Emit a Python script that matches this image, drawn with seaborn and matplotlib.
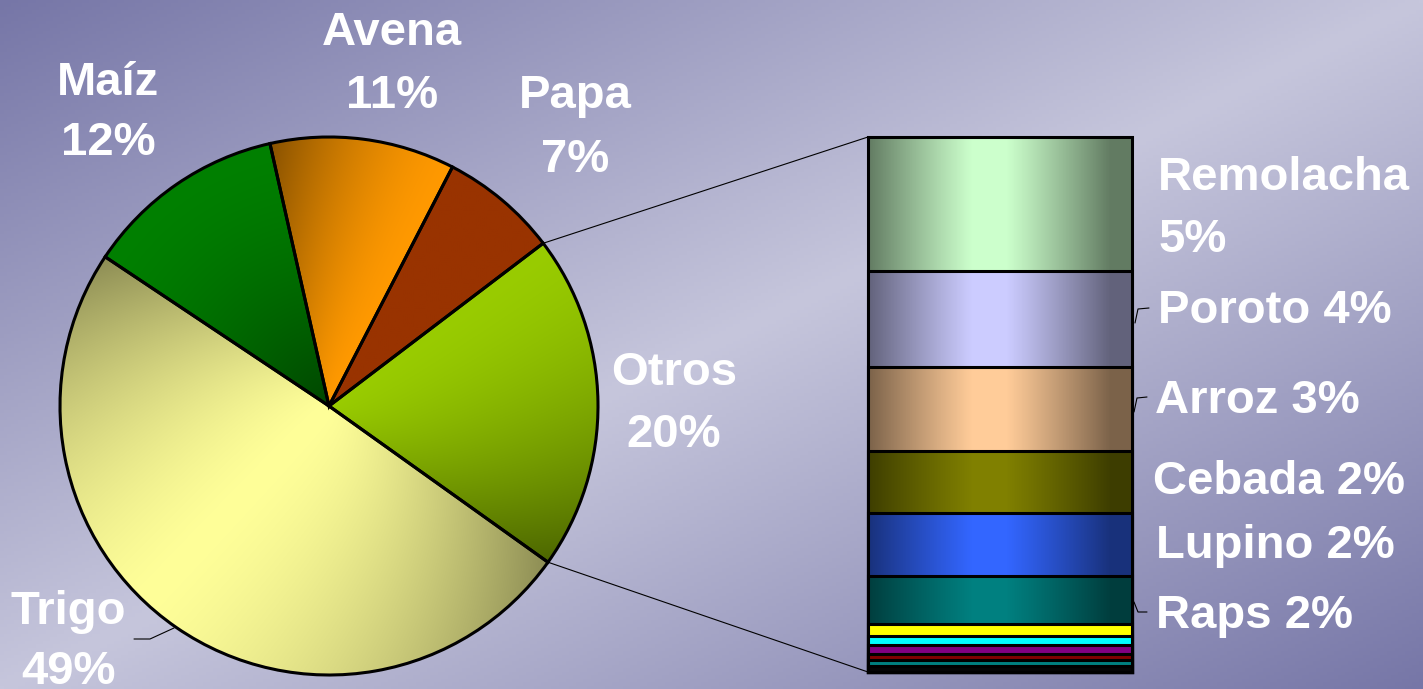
import numpy as np
import matplotlib
matplotlib.use("Agg")
import matplotlib.pyplot as plt
import matplotlib.patches as mpatches
from matplotlib.patches import ConnectionPatch
from matplotlib.lines import Line2D
import seaborn as sns

# ---------------- data ----------------
pie_labels = ["Otros", "Papa", "Avena", "Maíz", "Trigo"]
pie_values = [20, 7, 11, 12, 49]
pie_colors = ["#99cc00", "#993300", "#ff9900", "#008000", "#ffff99"]

# breakdown of "Otros", listed from top of the bar to the bottom
bar_labels = ["Remolacha", "Poroto", "Arroz", "Cebada", "Lupino", "Raps",
              "menor 1", "menor 2", "menor 3", "menor 4", "menor 5", "menor 6"]
bar_values = [5.03, 3.58, 3.12, 2.34, 2.35, 1.80, 0.45, 0.34, 0.33, 0.22, 0.21, 0.24]
bar_colors = ["#ccffcc", "#ccccff", "#ffcc99", "#808000", "#3366ff", "#008080",
              "#ffff00", "#00ffff", "#800080", "#800000", "#008080", "#050505"]
n_labeled = 6

# ---------------- figure ----------------
W, H = 1423, 689
sns.set_theme(style="white")
plt.rcParams["font.family"] = ["Liberation Sans", "DejaVu Sans"]
fig = plt.figure(figsize=(W / 100, H / 100), dpi=100)

# background gradient
ax_bg = fig.add_axes([0, 0, 1, 1], zorder=-10)
gx, gy = np.meshgrid(np.linspace(0, 1, 400), np.linspace(0, 1, 200))
t = (gx + gy) / 2.0
f = np.abs(2 * t - 1)
dark = np.array([0x76, 0x76, 0xa7]) / 255.0
light = np.array([0xc6, 0xc6, 0xdc]) / 255.0
bg = light[None, None, :] * (1 - f[..., None]) + dark[None, None, :] * f[..., None]
ax_bg.imshow(bg, aspect="auto", extent=[0, 1, 0, 1], origin="upper")
ax_bg.axis("off")

# ---------------- pie ----------------
cx, cy, R = 329, 406, 269
ax_pie = fig.add_axes([(cx - R) / W, (H - cy - R) / H, 2 * R / W, 2 * R / H])
wedges, _ = ax_pie.pie(pie_values, colors=pie_colors, startangle=-35.5,
                       counterclock=True, radius=1,
                       wedgeprops=dict(edgecolor="none"))
ax_pie.set_xlim(-1, 1)
ax_pie.set_ylim(-1, 1)
ax_pie.axis("off")

N = 500
X, Y = np.meshgrid(np.linspace(-1, 1, N), np.linspace(-1, 1, N))
rr = np.clip(np.hypot(X, Y), 0, 1)
th = np.degrees(np.arctan2(Y, X)) % 360


def shade(name, r, phi):
    if name == "Otros":
        return 1 - 0.5 * r * (1 - phi) ** 1.5
    if name == "Avena":
        return 1 - 0.47 * r * phi ** 1.6
    if name == "Maíz":
        return 1 - 0.45 * (1 - r) ** 1.5
    if name == "Trigo":
        pc = 0.45
        d = np.where(phi < pc, (pc - phi) / pc, (phi - pc) / (1 - pc))
        return 1 - 0.45 * r ** 1.2 * d ** 1.4
    return np.ones_like(r)


for w, name in zip(wedges, pie_labels):
    t1, t2 = w.theta1, w.theta2
    phi = np.clip(((th - t1) % 360) / (t2 - t1), 0, 1)
    m = np.clip(shade(name, rr, phi), 0, 1)
    base = np.array(w.get_facecolor()[:3])
    img = base[None, None, :] * m[..., None]
    im = ax_pie.imshow(img, extent=[-1, 1, -1, 1], origin="lower",
                       zorder=1.5, interpolation="bilinear")
    im.set_clip_path(w)
    ax_pie.add_patch(mpatches.Wedge(w.center, w.r, w.theta1, w.theta2,
                                    facecolor="none", edgecolor="black",
                                    linewidth=2.2, zorder=3, clip_on=False))
ax_pie.set_xlim(-1, 1)
ax_pie.set_ylim(-1, 1)

# ---------------- stacked bar ----------------
bx0, bx1, by0, by1 = 868, 1132, 137, 672
ax_bar = fig.add_axes([bx0 / W, (H - by1) / H, (bx1 - bx0) / W, (by1 - by0) / H])
total = float(np.sum(bar_values))
for i in range(len(bar_values)):
    top = float(np.sum(bar_values[i:]))
    sns.barplot(x=[0], y=[top], color=bar_colors[i], saturation=1,
                edgecolor="black", linewidth=2.2, width=0.8,
                errorbar=None, ax=ax_bar)
for p in ax_bar.patches:
    p.set_clip_on(False)
ax_bar.set_xlim(-0.4, 0.4)
ax_bar.set_ylim(0, total)
ax_bar.axis("off")

# cylinder-like shading on the large segments
u = np.linspace(-1, 1, 300)
dshade = 0.52 * np.clip((np.abs(u + 0.08) - 0.12) / 0.8, 0, 1) ** 1.1
ov = np.zeros((2, len(u), 4))
ov[..., 3] = dshade[None, :]
shade_bottom = float(np.sum(bar_values[n_labeled:]))
ax_bar.imshow(ov, extent=[-0.4, 0.4, shade_bottom, total], aspect="auto",
              zorder=5, interpolation="bilinear")
ax_bar.set_xlim(-0.4, 0.4)
ax_bar.set_ylim(0, total)

# connector lines pie -> bar
w_otros = wedges[0]
for ang, yb in [(w_otros.theta2, total), (w_otros.theta1, 0.0)]:
    a = np.radians(ang)
    con = ConnectionPatch(xyA=(np.cos(a), np.sin(a)), coordsA=ax_pie.transData,
                          xyB=(-0.4, yb), coordsB=ax_bar.transData,
                          color="black", linewidth=0.8, zorder=6)
    fig.add_artist(con)

# ---------------- labels ----------------
txt = dict(color="white", fontsize=34, fontweight="bold",
           family=["Liberation Sans", "DejaVu Sans"])


def ftext(x, y, s, ha):
    fig.text(x / W, 1 - y / H, s, ha=ha, va="baseline", **txt)


pie_pos = {"Maíz": (108, 95, 155), "Avena": (392, 45, 108),
           "Papa": (575, 108, 172), "Otros": (674, 385, 447),
           "Trigo": (68, 624, 684)}
for name, val in zip(pie_labels, pie_values):
    x, b1, b2 = pie_pos[name]
    ftext(x, b1, name, "center")
    ftext(x, b2, f"{val:.0f}%", "center")

bar_pos = {"Remolacha": (1158, 190), "Poroto": (1158, 323), "Arroz": (1155, 413),
           "Cebada": (1153, 494), "Lupino": (1156, 558), "Raps": (1156, 628)}
for name, val in zip(bar_labels[:n_labeled], bar_values[:n_labeled]):
    x, b = bar_pos[name]
    if name == "Remolacha":
        ftext(x, b, name, "left")
        ftext(x, b + 62, f"{val:.0f}%", "left")
    else:
        ftext(x, b, f"{name} {val:.0f}%", "left")

# small leader lines
leaders = [
    ([134, 150, 174], [639, 639, 628]),
    ([1135, 1138, 1149], [323, 309, 308]),
    ([1134, 1137, 1147], [412, 398, 397]),
    ([1134, 1138, 1147], [602, 612, 612]),
]
for xs, ys in leaders:
    fig.add_artist(Line2D(np.array(xs) / W, 1 - np.array(ys) / H,
                          color="black", linewidth=0.8,
                          transform=fig.transFigure))

fig.savefig("out.png", dpi=100)
